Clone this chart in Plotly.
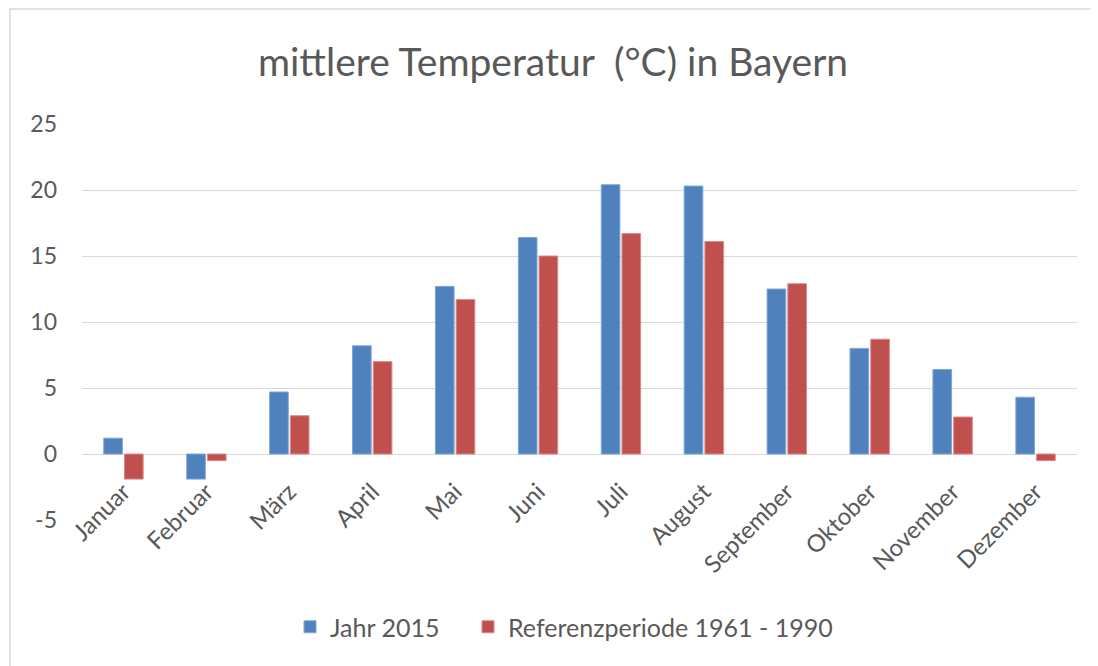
import plotly.graph_objects as go

months = ["Januar", "Februar", "März", "April", "Mai", "Juni", "Juli",
          "August", "September", "Oktober", "November", "Dezember"]
jahr_2015 = [1.2, -1.9, 4.7, 8.2, 12.7, 16.4, 20.4, 20.3, 12.5, 8.0, 6.4, 4.3]
referenz = [-1.9, -0.5, 2.9, 7.0, 11.7, 15.0, 16.7, 16.1, 12.9, 8.7, 2.8, -0.5]
y_ticks = [-5, 0, 5, 10, 15, 20, 25]
y_tick_labels = ["-5", "0", "5", "10", "15", "20", "25"]

# page body has an 8px margin -> figure origin sits at (8, 8) in the window
OFF = 8
W, H = 1098 - OFF, 666 - OFF
L, T = 82 - OFF, 124 - OFF
R = W - (1077 - OFF)
B = H - (520 - OFF)
pw, ph = W - L - R, H - T - B

def px2x(px):
    return (px - OFF - L) / pw

def py2y(py):
    return (H - B - (py - OFF)) / ph

font = "Lato, 'Open Sans', sans-serif"
grey = "#595959"
ymin, ymax = -5, 25

fig = go.Figure()
fig.add_trace(go.Bar(x=months, y=jahr_2015, name="Jahr 2015", legend="legend",
                     showlegend=True,
                     marker=dict(color="#4F81BD", line=dict(color="#7FA7D9", width=1))))
fig.add_trace(go.Bar(x=months, y=referenz, name="Referenzperiode 1961 - 1990", legend="legend2",
                     showlegend=True,
                     marker=dict(color="#C0504D", line=dict(color="#D98A88", width=1))))

leg_common = dict(orientation="h", xanchor="left", y=py2y(627), yanchor="middle",
                  font=dict(size=25, color=grey), itemwidth=30, bgcolor="rgba(0,0,0,0)",
                  visible=True)

fig.update_layout(
    width=W, height=H, showlegend=True,
    margin=dict(l=L, r=R, t=T, b=B, autoexpand=False),
    paper_bgcolor="white", plot_bgcolor="white",
    barmode="group", bargap=0.5, bargroupgap=0.1,
    title=dict(text="mittlere Temperatur  (°C) in Bayern", x=0.5, xanchor="center",
               y=1 - (62 - OFF) / H, yanchor="middle",
               font=dict(family=font, size=39, color=grey)),
    font=dict(family=font, color=grey, size=18),
    xaxis=dict(tickangle=-45, showgrid=False, showline=False, ticks="",
               anchor="free", position=(0 - ymin) / (ymax - ymin),
               automargin=False, ticklabelstandoff=18,
               tickfont=dict(size=24, color=grey)),
    yaxis=dict(range=[ymin, ymax], tickvals=y_ticks, ticktext=y_tick_labels,
               showgrid=True, gridcolor="#D9D9D9",
               gridwidth=1, zeroline=True, zerolinecolor="#D9D9D9", zerolinewidth=1,
               showline=False, ticks="", ticklabelstandoff=24, automargin=False,
               tickfont=dict(size=23, color=grey)),
    legend=dict(x=px2x(290), **leg_common),
    legend2=dict(x=px2x(468), **leg_common),
    shapes=[dict(type="rect", xref="paper", yref="paper",
                 x0=px2x(10), x1=px2x(1120), y0=py2y(690), y1=py2y(9),
                 line=dict(color="#D9D9D9", width=1.5), layer="below")],
)

fig.write_html("out.html")
